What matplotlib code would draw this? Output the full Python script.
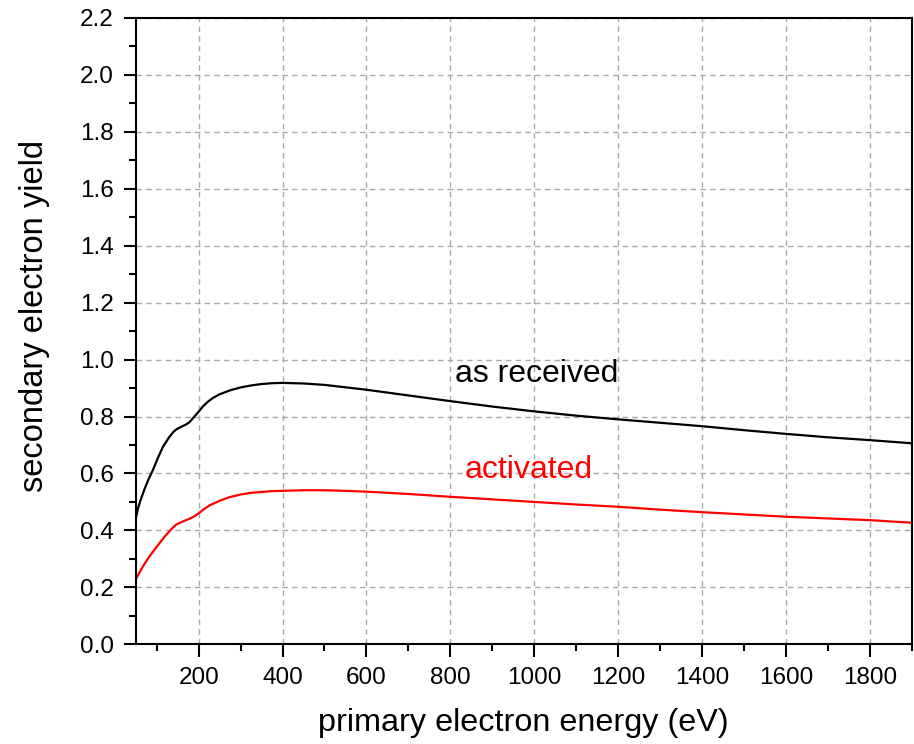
import matplotlib
matplotlib.use("Agg")
import matplotlib.pyplot as plt
from matplotlib.ticker import MultipleLocator, FormatStrFormatter

plt.rcParams['font.family'] = ['Liberation Sans', 'DejaVu Sans']

energy_received = [50, 55, 60, 71, 80, 91, 103, 115, 130, 140, 147, 160, 170, 178, 190, 200,
                   210, 222, 235, 250, 275, 300, 325, 350, 375, 400, 450, 500, 600, 700, 800,
                   900, 1000, 1100, 1200, 1300, 1400, 1500, 1600, 1700, 1800, 1900]
yield_received = [0.44, 0.475, 0.50, 0.545, 0.578, 0.612, 0.655, 0.694, 0.728, 0.746, 0.755,
                  0.765, 0.772, 0.780, 0.800, 0.817, 0.835, 0.852, 0.866, 0.878, 0.892, 0.902,
                  0.909, 0.914, 0.917, 0.918, 0.916, 0.911, 0.894, 0.874, 0.854, 0.835, 0.818,
                  0.803, 0.790, 0.778, 0.766, 0.752, 0.739, 0.727, 0.717, 0.706]

energy_activated = [50, 60, 70, 80, 91, 105, 120, 135, 147, 160, 175, 188, 200, 213, 226, 250,
                    274, 300, 325, 350, 375, 400, 450, 500, 550, 600, 700, 800, 900, 1000, 1100,
                    1200, 1300, 1400, 1500, 1600, 1700, 1800, 1900]
yield_activated = [0.228, 0.255, 0.28, 0.303, 0.325, 0.352, 0.38, 0.405, 0.421, 0.430, 0.439,
                   0.448, 0.460, 0.475, 0.488, 0.504, 0.517, 0.526, 0.532, 0.535, 0.538, 0.539,
                   0.541, 0.541, 0.539, 0.536, 0.528, 0.518, 0.509, 0.500, 0.491, 0.483, 0.473,
                   0.464, 0.456, 0.448, 0.442, 0.436, 0.427]

fig = plt.figure(figsize=(9.14, 7.44), dpi=100)
ax = fig.add_axes([0.1485, 0.134, 0.849, 0.842])

ax.plot(energy_received, yield_received, color='black', lw=1.6, solid_joinstyle='round')
ax.plot(energy_activated, yield_activated, color='#ff0000', lw=1.6, solid_joinstyle='round')

ax.text(812, 0.92, 'as received', color='black', fontsize=23, va='baseline', ha='left')
ax.text(834, 0.584, 'activated', color='#ff0000', fontsize=23, va='baseline', ha='left')

ax.set_xlim(50, 1900)
ax.set_ylim(0, 2.2)
ax.set_xticks(range(200, 1801, 200))
ax.xaxis.set_minor_locator(MultipleLocator(100))
ax.yaxis.set_major_locator(MultipleLocator(0.2))
ax.yaxis.set_minor_locator(MultipleLocator(0.1))
ax.yaxis.set_major_formatter(FormatStrFormatter('%.1f'))

ax.grid(True, which='major', color='#aaaaaa', linestyle=(0, (4, 3)), linewidth=1.0)
ax.set_axisbelow(True)

for s in ax.spines.values():
    s.set_linewidth(1.5)
ax.tick_params(which='major', direction='out', length=9, width=1.5, labelsize=17.5, pad=7)
ax.tick_params(which='minor', direction='out', length=5, width=1.5)
ax.tick_params(top=False, right=False, which='both')

ax.set_xlabel('primary electron energy (eV)', fontsize=23.3, labelpad=14)
ax.set_ylabel('secondary electron yield', fontsize=23.5, labelpad=21, y=0.524)

fig.savefig('out.png', dpi=100)
